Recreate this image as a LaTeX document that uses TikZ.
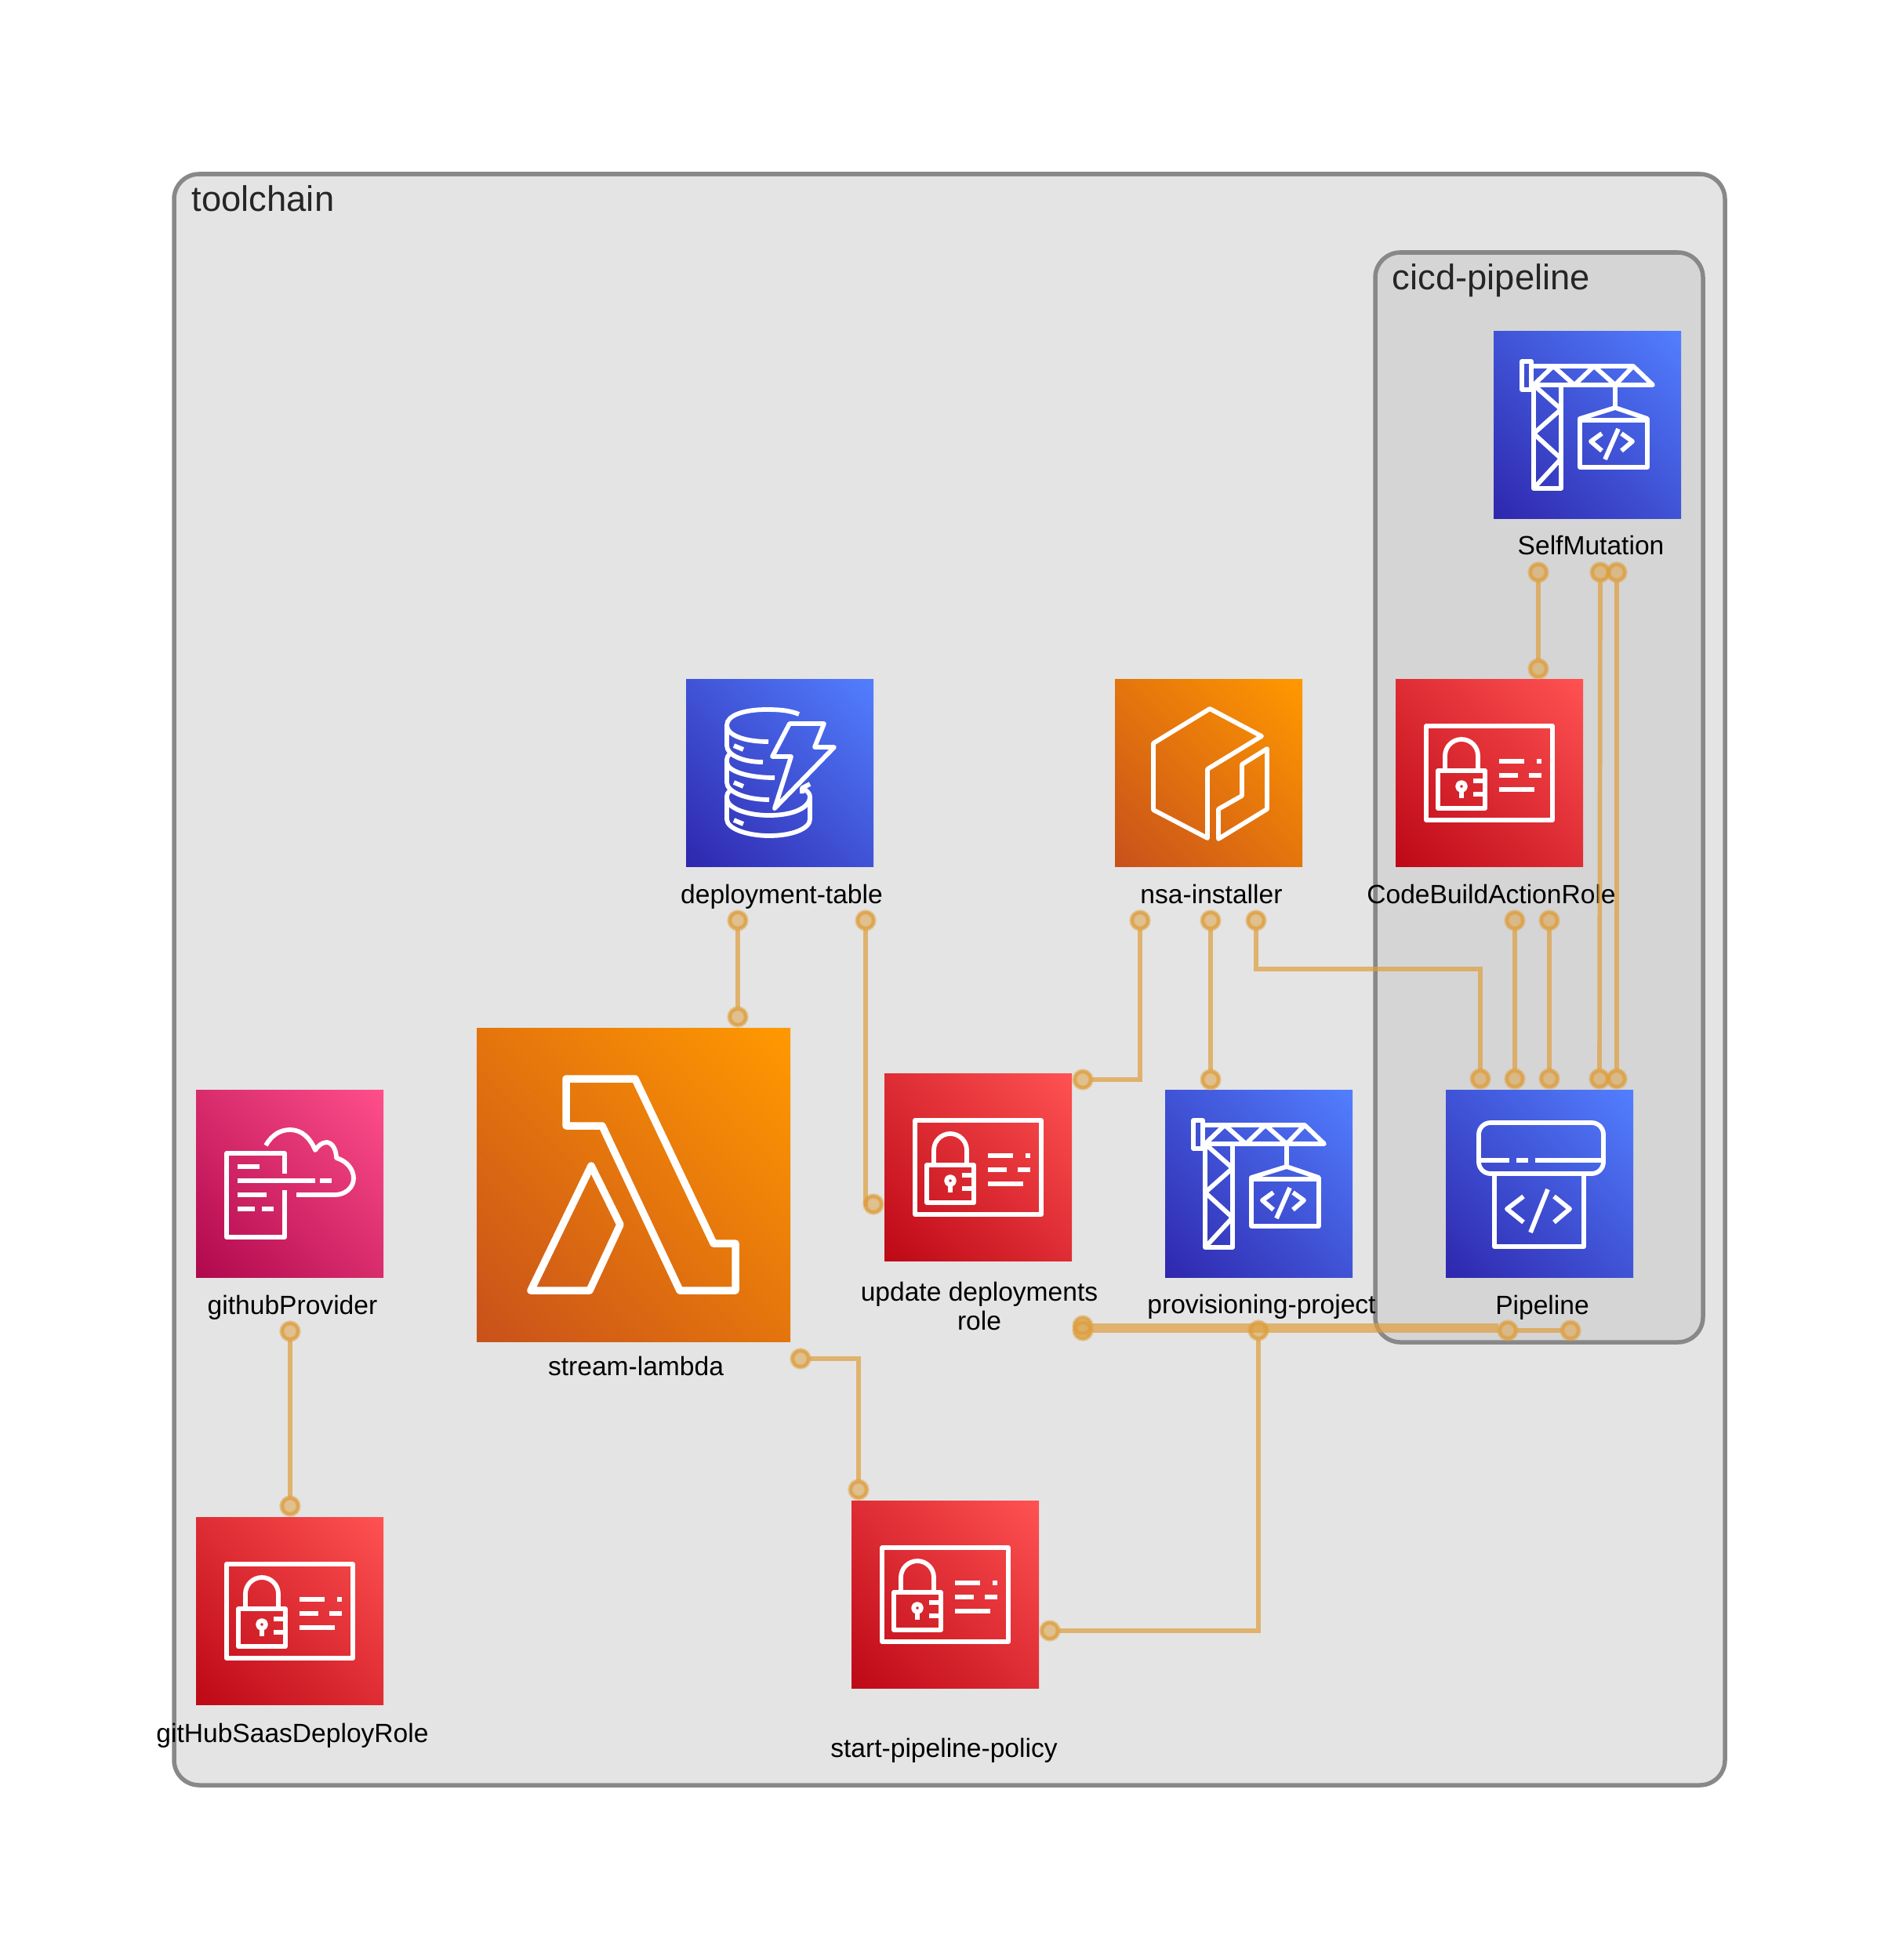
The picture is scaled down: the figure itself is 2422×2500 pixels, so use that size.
\documentclass[tikz,border=0pt]{standalone}
\usepackage{fontspec}
\setmainfont{Liberation Sans}
\usetikzlibrary{shadings}
\definecolor{linkorange}{RGB}{222,158,60}
\definecolor{groupedge}{RGB}{136,136,136}
\definecolor{outerfill}{RGB}{228,228,228}
\definecolor{innerfill}{RGB}{213,213,213}
\tikzset{
  groupbox/.style={draw=groupedge, line width=0.055cm, rounded corners=0.32cm},
  grouplbl/.style={anchor=base west, inner sep=0pt, text=black!85, font=\fontsize{12.9}{15}\selectfont},
  lbl/.style={anchor=base, inner sep=0pt, font=\fontsize{9.55}{10.3}\selectfont, align=center},
  iconbox/.style={anchor=north west, inner sep=0pt, outer sep=0pt},
  blueicon/.style={lower left={rgb,255:red,46;green,39;blue,173}, upper right={rgb,255:red,82;green,127;blue,255}, upper left={rgb,255:red,64;green,83;blue,214}, lower right={rgb,255:red,64;green,83;blue,214}},
  redicon/.style={lower left={rgb,255:red,189;green,8;blue,22}, upper right={rgb,255:red,255;green,82;blue,82}, upper left={rgb,255:red,222;green,45;blue,52}, lower right={rgb,255:red,222;green,45;blue,52}},
  orangeicon/.style={lower left={rgb,255:red,200;green,81;blue,27}, upper right={rgb,255:red,255;green,153;blue,0}, upper left={rgb,255:red,228;green,117;blue,13}, lower right={rgb,255:red,228;green,117;blue,13}},
  pinkicon/.style={lower left={rgb,255:red,176;green,8;blue,77}, upper right={rgb,255:red,255;green,79;blue,139}, upper left={rgb,255:red,216;green,44;blue,108}, lower right={rgb,255:red,216;green,44;blue,108}},
  glyph/.style={draw=white, line width=0.058cm, line join=round},
  link/.style={draw=linkorange, draw opacity=0.7, line width=0.057cm},
  port/.style={circle, draw=linkorange, draw opacity=0.7, fill=linkorange, fill opacity=0.5, line width=0.035cm, minimum size=0.21cm, inner sep=0pt,
    preaction={draw=linkorange, draw opacity=0.4, line width=0.065cm}},
  pics/crane/.style={code={
    \draw[glyph] (36,39) rectangle (48,75);
    \draw[glyph] (48,45) -- (178,45) -- (203,69) -- (48,69);
    \draw[glyph] (51,69) -- (76,45) -- (103,69) -- (128,45) -- (155,69) -- (178,45);
    \draw[glyph] (51,69) rectangle (86,201);
    \draw[glyph] (51,69) -- (86,100) -- (51,131) -- (86,163) -- (51,201);
    \draw[glyph] (155,69) -- (155,98);
    \draw[glyph] (155,98) -- (196,112) -- (196,174) -- (110,174) -- (110,112) -- cycle;
    \draw[glyph] (110,114) -- (196,114);
    \draw[glyph] (138,131) -- (124,141) -- (138,153);
    \draw[glyph] (163,131) -- (177,141) -- (163,153);
    \draw[glyph] (159,125) -- (142,164);
  }},
  pics/card/.style={code={
    \draw[glyph] (39,60) rectangle (200,180);
    \draw[glyph] (54,117) rectangle (114,165);
    \draw[glyph] (63,114) -- (63,98) arc[start angle=180, end angle=360, radius=21] -- (105,114);
    \draw[glyph] (84,137) circle[radius=5];
    \draw[glyph] (84,143) -- (84,152);
    \draw[glyph] (99,130) -- (114,130) (99,147) -- (114,147);
    \draw[glyph] (132,105) -- (164,105) (180,105) -- (186,105);
    \draw[glyph] (132,123) -- (156,123) (170,123) -- (186,123);
    \draw[glyph] (132,141) -- (177,141);
  }},
  pics/codepipe/.style={code={
    \draw[glyph, rounded corners=0.15cm] (42,42) rectangle (201,107);
    \draw[glyph] (42,90) -- (81,90) (90,90) -- (105,90) (114,90) -- (201,90);
    \draw[glyph] (62,107) -- (62,200) -- (176,200) -- (176,107);
    \draw[glyph] (99,136) -- (78,152) -- (99,169);
    \draw[glyph] (138,136) -- (158,152) -- (138,169);
    \draw[glyph] (130,127) -- (108,182);
  }},
  pics/lambdaicon/.style={code={
    \draw[glyph, line width=0.095cm] (114,65) -- (202,65) -- (302,275) -- (330,275) -- (330,335) -- (259,335) -- (160,125) -- (114,125) -- cycle;
    \draw[glyph, line width=0.095cm] (146,176) -- (183,251) -- (144,335) -- (69,335) -- cycle;
  }},
  pics/dynamo/.style={code={
    \draw[glyph] (144,45) .. controls (132,40) and (118,39) .. (103,39) .. controls (75,39) and (52,46) .. (52,59) .. controls (52,72) and (75,80) .. (105,80);
    \draw[glyph] (52,59) -- (52,85) .. controls (52,97) and (72,106) .. (98,106);
    \draw[glyph] (58,94) .. controls (52,98) and (52,101) .. (52,106) .. controls (52,118) and (80,126) .. (113,126);
    \draw[glyph] (52,106) -- (52,132) .. controls (52,144) and (76,154) .. (106,154);
    \draw[glyph] (58,141) .. controls (52,145) and (52,148) .. (52,152) .. controls (52,165) and (78,174) .. (106,174) .. controls (135,174) and (158,165) .. (158,150) .. controls (158,146) and (154,142) .. (148,139);
    \draw[glyph] (52,152) -- (52,179) .. controls (52,191) and (78,200) .. (106,200) .. controls (135,200) and (158,191) .. (158,179) -- (158,150);
    \draw[glyph] (148,146) -- (148,139) -- (158,134);
    \draw[glyph] (61,85) -- (73,90) (61,132) -- (73,137) (61,180) -- (73,185);
    \draw[glyph] (132,57) -- (176,57) -- (164,87) -- (189,87) -- (113,165) -- (134,99) -- (110,99) -- cycle;
  }},
  pics/packageicon/.style={code={
    \draw[glyph] (121,38) -- (187,73) -- (118,115) -- (118,203) -- (49,167) -- (49,82) -- cycle;
    \draw[glyph] (194,89) -- (194,166) -- (132,204) -- (132,166) -- (162,149) -- (162,109) -- cycle;
  }},
  pics/cloudprovider/.style={code={
    \draw[glyph] (113,107) -- (113,81) -- (39,81) -- (39,188) -- (113,188) -- (113,128);
    \draw[glyph] (53,98) -- (81,98);
    \draw[glyph] (53,116) -- (152,116) (158,116) -- (173,116);
    \draw[glyph] (53,134) -- (90,134);
    \draw[glyph] (53,152) -- (75,152) (84,152) -- (99,152);
    \draw[glyph] (89,71) .. controls (97,57) and (108,51) .. (120,51) .. controls (135,51) and (146,62) .. (152,77) .. controls (156,71) and (161,67) .. (167,67) .. controls (175,68) and (179,78) .. (179,87) .. controls (193,91) and (201,102) .. (201,113) .. controls (201,125) and (190,134) .. (177,134) -- (128,134);
  }},
}
\begin{document}
\begin{tikzpicture}[x=0.01cm, y=-0.01cm]
  \useasboundingbox (0,0) rectangle (2422,2500);
  \draw[groupbox, fill=outerfill] (222,222) rectangle (2200,2277);
  \draw[groupbox, fill=innerfill] (1754,322) rectangle (2172,1712);
  \node[grouplbl] (toolchainlbl) at (244,269) {toolchain};
  \node[grouplbl] (cicdlbl) at (1775,369) {cicd-pipeline};

  \foreach \n/\x/\y/\t in {selflbl/2029/707/SelfMutation, tablelbl/997/1152/deployment-table, installerlbl/1545/1152/nsa-installer, actionlbl/1902/1152/CodeBuildActionRole, pipelinelbl/1967/1676/Pipeline, projectlbl/1609/1675/provisioning-project, lambdalbl/811/1754/stream-lambda, providerlbl/373/1676/githubProvider, saaslbl/373/2222/gitHubSaasDeployRole, policylbl/1204/2241/start-pipeline-policy} {
    \node[lbl] (\n) at (\x,\y) {\t};
  }
  \node[lbl] (updatelbl) at (1249,1696) {update deployments\\role};

  \foreach \n/\x/\y/\s/\kind/\glyph in {self/1905/422/2.39/blueicon/crane, table/875/866/2.39/blueicon/dynamo, installer/1422/866/2.39/orangeicon/packageicon, action/1780/866/2.39/redicon/card, pipeline/1844/1390/2.39/blueicon/codepipe, project/1486/1390/2.39/blueicon/crane, update/1128/1369/2.39/redicon/card, lambda/608/1311/4.00/orangeicon/lambdaicon, provider/250/1390/2.39/pinkicon/cloudprovider, saas/250/1935/2.39/redicon/card, policy/1086/1914/2.39/redicon/card} {
    \node[iconbox, \kind, minimum size=\s cm] (\n) at (\x,\y) {};
    \pic at (\n.north west) {\glyph};
  }

  \foreach \n/\x/\y in {selfA/1962/730, selfB/2041/730, selfC/2062/730, actionT/1962/853, actionA/1932/1174, actionB/1976/1174, pipeA/1888/1376, pipeB/1932/1376, pipeC/1976/1376, pipeD/2040/1376, pipeE/2062/1376, tableA/941/1174, tableB/1104/1174, lambdaT/941/1297, updateL/1114/1536, installerA/1454/1174, installerB/1544/1174, installerC/1602/1174, updateT/1381/1377, projectT/1544/1377, updateA/1381/1691, updateB/1381/1697, projectB/1605/1697, pipeF/1923/1697, pipeG/2003/1697, policyR/1339/2080, lambdaR/1021/1733, policyT/1095/1900, providerB/370/1698, saasT/370/1921} {
    \node[port] (\n) at (\x,\y) {};
  }
  \coordinate (bendC) at (1602,1236);
  \coordinate (endF) at (1911,1691);
  \draw[link] (selfA) -- (actionT);
  \draw[link] (selfB) -- (pipeD);
  \draw[link] (selfC) -- (pipeE);
  \draw[link] (actionA) -- (pipeB);
  \draw[link] (actionB) -- (pipeC);
  \draw[link] (installerC) -- (bendC) -| (pipeA);
  \draw[link] (installerA) |- (updateT);
  \draw[link] (installerB) -- (projectT);
  \draw[link] (tableA) -- (lambdaT);
  \draw[link] (tableB) |- (updateL);
  \draw[link] (lambdaR) -| (policyT);
  \draw[link] (policyR) -| (projectB);
  \draw[link] (providerB) -- (saasT);
  \draw[link] (updateA) -- (endF);
  \draw[link] (updateB) -- (pipeF);
  \draw[link] (pipeF) -- (pipeG);
\end{tikzpicture}
\end{document}
